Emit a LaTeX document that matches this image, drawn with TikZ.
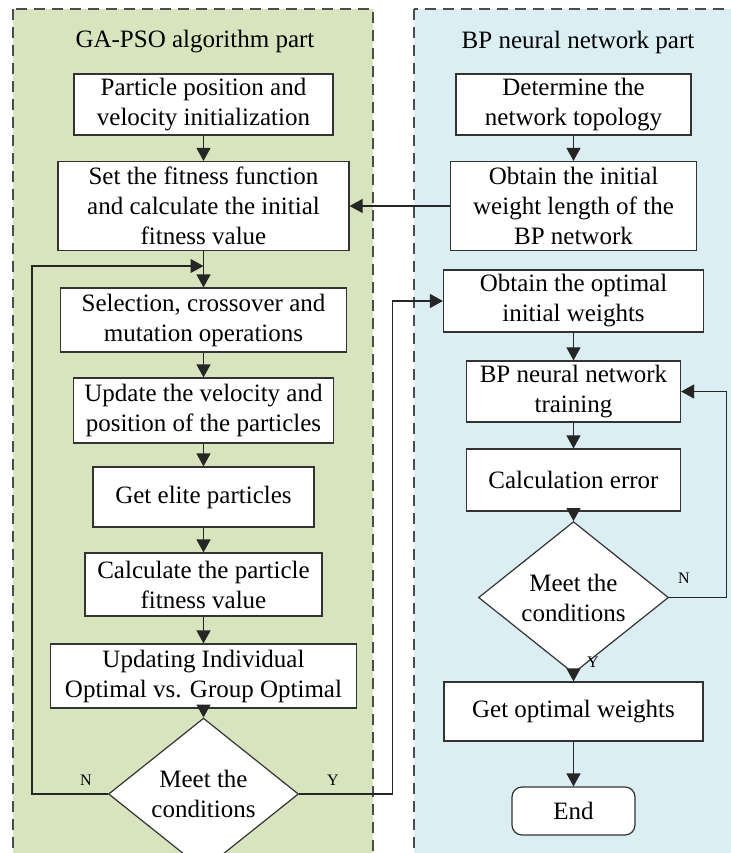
\documentclass[tikz,border=0pt]{standalone}
\usepackage{fontspec}
\setmainfont{Liberation Serif}
\usepackage{tikz}
\usetikzlibrary{arrows.meta, shapes.geometric}
\usepackage{xcolor}
\definecolor{gapsogreen}{HTML}{D7E4BD}
\definecolor{bpblue}{HTML}{DAEEF3}

\begin{document}
\begin{tikzpicture}[x=0.5pt, y=-0.5pt,
    font=\fontsize{12.5}{15}\selectfont,
    box/.style={draw=black!80, line width=0.6pt, fill=white, align=center, inner sep=0pt},
    cond/.style={box, diamond, minimum width=95pt, minimum height=54.5pt},
    flow/.style={draw=black!85, line width=0.6pt, -{Triangle[length=6.5pt, width=7pt]}},
    panel/.style={draw=black!70, line width=0.75pt, dash pattern=on 5.5pt off 3.5pt},
    yn/.style={font=\fontsize{8}{9}\selectfont}]
    \useasboundingbox (0,0) rectangle (730,853);
    \fill[white] (0,0) rectangle (730,853);
    \filldraw[panel, fill=gapsogreen] (13,9) rectangle (373,880);
    \filldraw[panel, fill=bpblue] (414,9) rectangle (760,880);
    \node (gatitle) at (195,42) {GA-PSO algorithm part};
    \node (bptitle) at (578,42) {BP neural network part};
    % GA-PSO part
    \node[box, minimum width=129.5pt, minimum height=30.5pt] (init) at (203.5,104.5) {Particle position and\\velocity initialization};
    \node[box, minimum width=145.5pt, minimum height=44.5pt] (fit) at (203.5,206) {Set the fitness function\\and calculate the initial\\fitness value};
    \node[box, minimum width=143pt, minimum height=32pt] (sel) at (203.5,320) {Selection, crossover and\\mutation operations};
    \node[box, minimum width=130pt, minimum height=32.5pt] (upd) at (203.5,410.5) {Update the velocity and\\position of the particles};
    \node[box, minimum width=110.5pt, minimum height=30pt] (elite) at (203.5,497) {Get elite particles};
    \node[box, minimum width=118.5pt, minimum height=31.5pt] (pfit) at (203.5,584.5) {Calculate the particle\\fitness value};
    \node[box, minimum width=153pt, minimum height=32pt] (best) at (203.5,676) {Updating Individual\\Optimal vs. Group Optimal};
    \node[cond] (gacond) at (203.5,794) {Meet the\\conditions};
    \coordinate (join) at (203.5,266);
    % BP part
    \node[box, minimum width=117.5pt, minimum height=30.5pt] (topo) at (573.5,104.5) {Determine the\\network topology};
    \node[box, minimum width=123pt, minimum height=44.5pt] (wlen) at (573.5,206) {Obtain the initial\\weight length of the\\BP network};
    \node[box, minimum width=130pt, minimum height=31pt] (optw) at (573.5,301) {Obtain the optimal\\initial weights};
    \node[box, minimum width=107pt, minimum height=30.5pt] (train) at (573.5,391.5) {BP neural network\\training};
    \node[box, minimum width=107pt, minimum height=31pt] (err) at (573.5,480) {Calculation error};
    \node[cond] (bpcond) at (573.5,597.5) {Meet the\\conditions};
    \node[box, minimum width=129.5pt, minimum height=29.5pt] (getw) at (573.5,711.5) {Get optimal weights};
    \node[box, rounded corners=5pt, minimum width=61.5pt, minimum height=24pt] (end) at (573.5,811) {End};
    % connectors
    \draw[flow] (init) -- (fit);
    \draw[flow] (fit) -- (sel);
    \draw[flow] (sel) -- (upd);
    \draw[flow] (upd) -- (elite);
    \draw[flow] (elite) -- (pfit);
    \draw[flow] (pfit) -- (best);
    \draw[flow] (best) -- (gacond);
    \draw[flow] (gacond.west) -- ++(-76,0) |- (join);
    \draw[flow] (gacond.east) -- ++(93,0) |- (optw.west);
    \draw[flow] (topo) -- (wlen);
    \draw[flow] (wlen) -- (fit);
    \draw[flow] (optw) -- (train);
    \draw[flow] (train) -- (err);
    \draw[flow] (err) -- (bpcond);
    \draw[flow] (bpcond.east) -- ++(57,0) |- (train.east);
    \draw[flow] (bpcond) -- (getw);
    \draw[flow] (getw) -- (end);
    \node[yn] (gano) at (86,780) {N};
    \node[yn] (gayes) at (333,780) {Y};
    \node[yn] (bpno) at (684,578) {N};
    \node[yn] (bpyes) at (593,662) {Y};
\end{tikzpicture}
\end{document}
